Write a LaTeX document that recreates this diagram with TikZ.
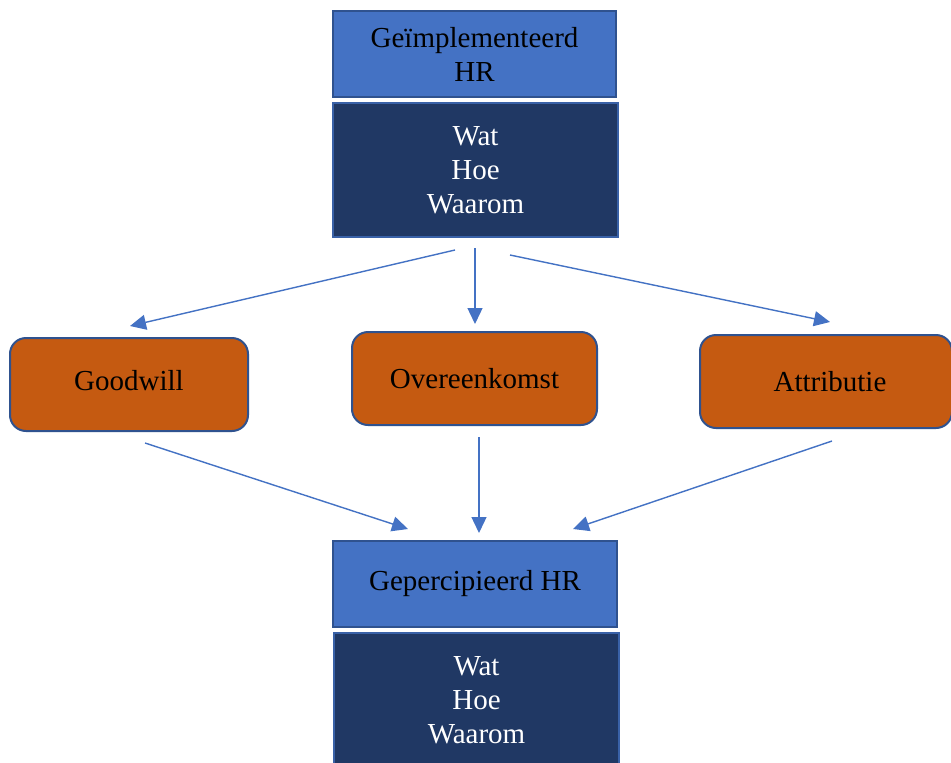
\documentclass[tikz,border=0pt]{standalone}
\usepackage{fontspec}
\setmainfont{Liberation Serif}
\usetikzlibrary{arrows.meta}
\definecolor{hrblue}{HTML}{4472C4}
\definecolor{hredge}{HTML}{2F528F}
\definecolor{hrnavy}{HTML}{203864}
\definecolor{hrorange}{HTML}{C55A11}
\tikzset{
  every node/.style={font=\fontsize{29}{34}\selectfont, align=center, inner sep=0pt},
  titlebox/.style={rectangle, fill=hrblue, draw=hredge, line width=2pt, text=black},
  listbox/.style={rectangle, fill=hrnavy, draw=hrblue!70!hrnavy, line width=2pt, text=white},
  factor/.style={rectangle, rounded corners=16pt, fill=hrorange, draw=hredge, line width=2pt, text=black},
  link/.style={draw=hrblue, line width=1.4pt, -{Triangle[length=16pt,width=15pt]}}
}
\begin{document}
\begin{tikzpicture}[x=1pt,y=-1pt]
\useasboundingbox (0,0) rectangle (951,763);
\fill[white] (0,0) rectangle (951,763);

% implemented HR
\node[titlebox, minimum width=283pt, minimum height=86pt] (impl) at (474.5,54) {Geïmplementeerd\\HR};
\node[listbox, minimum width=285pt, minimum height=134pt] (impllist) at (475.5,170) {Wat\\Hoe\\Waarom};

% mediating factors
\node[factor, minimum width=238pt, minimum height=93pt, text depth=9pt] (good) at (129,384.5) {Goodwill};
\node[factor, minimum width=245pt, minimum height=93pt] (over) at (474.5,378.5) {Overeenkomst};
\node[factor, minimum width=252pt, minimum height=93pt] (attr) at (826,381.5) {\hspace*{8pt}Attributie};

% perceived HR
\node[titlebox, minimum width=284pt, minimum height=86pt] (perc) at (475,584) {Gepercipieerd HR};
\node[listbox, minimum width=285pt, minimum height=134pt] (perclist) at (476.5,700) {Wat\\Hoe\\Waarom};

% connector end points
\coordinate (s1) at (455,250); \coordinate (e1) at (130,326);
\coordinate (s2) at (475,248); \coordinate (e2) at (475,324);
\coordinate (s3) at (510,255); \coordinate (e3) at (830,322);
\coordinate (s4) at (145,443); \coordinate (e4) at (408,529);
\coordinate (s5) at (479,437); \coordinate (e5) at (479,533);
\coordinate (s6) at (832,441); \coordinate (e6) at (573,529);

\draw[link] (s1) -- (e1);
\draw[link] (s2) -- (e2);
\draw[link] (s3) -- (e3);
\draw[link] (s4) -- (e4);
\draw[link] (s5) -- (e5);
\draw[link] (s6) -- (e6);
\end{tikzpicture}
\end{document}
